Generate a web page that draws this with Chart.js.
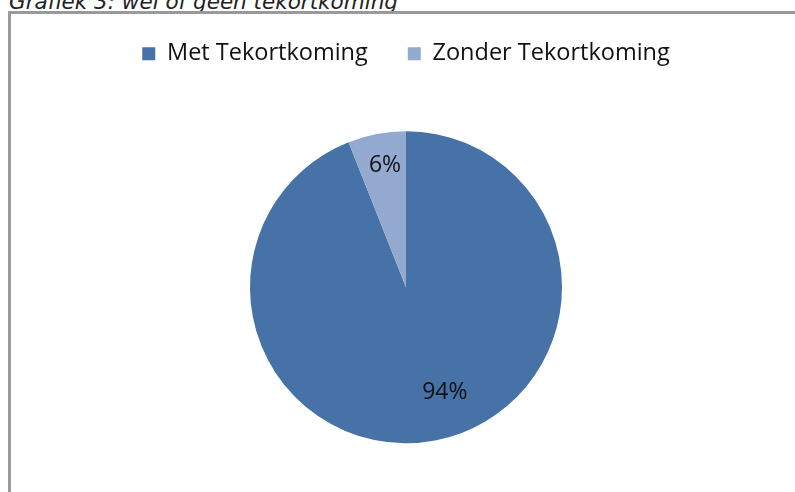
<!DOCTYPE html>
<html>
<head>
<meta charset="utf-8">
<script src="https://cdn.jsdelivr.net/npm/chart.js@4/dist/chart.umd.min.js"></script>
<style>
  html, body { margin: 0; padding: 0; background: #fff; overflow: hidden; width: 795px; height: 492px; }
  #title { position: absolute; left: 9px; top: -9px; line-height: 1; font-family: "DejaVu Sans", Verdana, sans-serif; font-style: italic; font-size: 21.5px; color: #222; white-space: nowrap; }
  #frame { position: absolute; left: 8px; top: 11px; width: 820px; height: 520px; border-left: 3px solid #9a9a9a; border-top: 3px solid #9a9a9a; box-sizing: border-box; background: transparent; }
  #wrap { position: absolute; left: 0; top: 0; width: 795px; height: 530px; }
</style>
</head>
<body>
<div id="title">Grafiek 3: wel of geen tekortkoming</div>
<div id="frame"></div>
<div id="wrap"><canvas id="c"></canvas></div>
<script>
const categories = ["Met Tekortkoming", "Zonder Tekortkoming"];
const values = [94, 6];
const sliceColors = ["#4672A7", "#94A9D0"];
const labelRadiusFrac = [0.72, 0.79];
const labelShiftDeg = [-9.4, 1];

const FONT = "'Open Sans', Lato, sans-serif";

const pieLabels = {
  id: 'pieLabels',
  afterDatasetsDraw(chart) {
    const ctx = chart.ctx;
    const meta = chart.getDatasetMeta(0);
    const total = values.reduce((a, b) => a + b, 0);
    ctx.save();
    ctx.font = "23px " + FONT;
    ctx.fillStyle = "#111";
    ctx.textAlign = "center";
    ctx.textBaseline = "middle";
    meta.data.forEach((arc, i) => {
      const p = arc.getProps(['x', 'y', 'startAngle', 'endAngle', 'outerRadius'], true);
      const mid = (p.startAngle + p.endAngle) / 2 + labelShiftDeg[i] * Math.PI / 180;
      const r = p.outerRadius * labelRadiusFrac[i];
      const pct = Math.round(values[i] / total * 100) + "%";
      ctx.fillText(pct, p.x + Math.cos(mid) * r, p.y + Math.sin(mid) * r);
    });
    ctx.restore();
  }
};

new Chart(document.getElementById('c'), {
  type: 'pie',
  data: {
    labels: categories,
    datasets: [{ data: values, backgroundColor: sliceColors, borderWidth: 0, hoverOffset: 0, radius: 156 }]
  },
  options: {
    responsive: true,
    maintainAspectRatio: false,
    animation: false,
    events: [],
    layout: { padding: { top: 2, bottom: 31, left: 20, right: 3 } },
    plugins: {
      tooltip: { enabled: false },
      legend: {
        position: 'top',
        labels: {
          boxWidth: 13,
          boxHeight: 13,
          padding: 40,
          color: '#111',
          font: { family: FONT, size: 23.5 }
        }
      }
    }
  },
  plugins: [pieLabels]
});
</script>
</body>
</html>
